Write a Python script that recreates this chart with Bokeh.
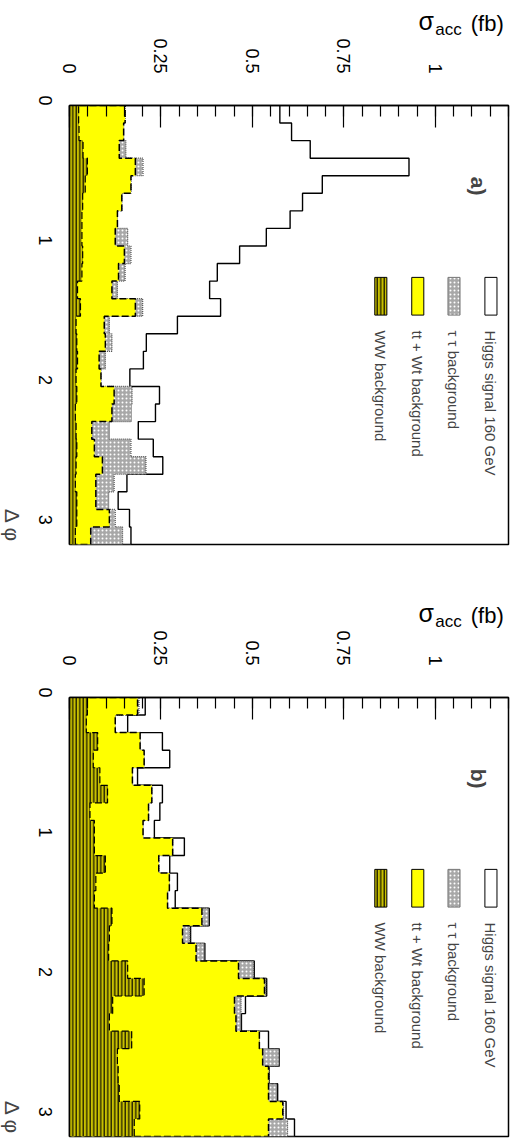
import math
import numpy as np
from bokeh.plotting import figure
from bokeh.layouts import column
from bokeh.models import Range1d, FixedTicker, Label, LinearAxis
from bokeh.embed import file_html
from bokeh.resources import INLINE

# 25 bins in delta-phi between 0 and pi
n_bins = 25
phi_edges = np.linspace(0.0, math.pi, n_bins + 1)

# accepted cross sections per bin (fb), panel a)
ww_a = [0.025, 0.026, 0.037, 0.049, 0.043, 0.036, 0.034, 0.034, 0.036, 0.034, 0.022, 0.030, 0.018,
        0.020, 0.022, 0.018, 0.020, 0.016, 0.018, 0.020, 0.018, 0.016, 0.020, 0.020, 0.016]
ttwt_a = [0.127, 0.122, 0.099, 0.131, 0.125, 0.107, 0.097, 0.091, 0.114, 0.100, 0.094, 0.150, 0.077,
          0.078, 0.059, 0.068, 0.102, 0.100, 0.043, 0.048, 0.072, 0.056, 0.052, 0.089, 0.042]
tautau_a = [0.000, 0.000, 0.018, 0.021, 0.000, 0.000, 0.000, 0.034, 0.018, 0.018, 0.015, 0.020, 0.014,
            0.018, 0.017, 0.000, 0.049, 0.053, 0.048, 0.100, 0.119, 0.050, 0.035, 0.016, 0.087]
higgs_a = [0.423, 0.459, 0.504, 0.727, 0.523, 0.494, 0.472, 0.379, 0.297, 0.252, 0.252, 0.213, 0.186,
           0.094, 0.104, 0.079, 0.075, 0.066, 0.079, 0.061, 0.046, 0.035, 0.026, 0.039, 0.023]

# accepted cross sections per bin (fb), panel b)
ww_b = [0.049, 0.046, 0.077, 0.065, 0.083, 0.104, 0.056, 0.068, 0.068, 0.098, 0.072, 0.068, 0.116,
        0.109, 0.107, 0.159, 0.204, 0.118, 0.109, 0.170, 0.131, 0.133, 0.136, 0.192, 0.177]
ttwt_b = [0.137, 0.079, 0.116, 0.139, 0.089, 0.121, 0.160, 0.133, 0.214, 0.146, 0.201, 0.200, 0.246,
          0.200, 0.239, 0.303, 0.329, 0.333, 0.346, 0.349, 0.397, 0.411, 0.408, 0.391, 0.367]
tautau_b = [0.004, 0.000, 0.000, 0.000, 0.000, 0.000, 0.000, 0.000, 0.000, 0.000, 0.000, 0.000, 0.018,
            0.020, 0.022, 0.041, 0.004, 0.018, 0.013, 0.000, 0.044, 0.002, 0.022, 0.002, 0.052]
higgs_b = [0.017, 0.034, 0.061, 0.070, 0.014, 0.029, 0.031, 0.031, 0.032, 0.030, 0.022, 0.021, 0.002,
           0.002, 0.002, 0.002, 0.002, 0.012, 0.002, 0.025, 0.001, 0.000, 0.003, 0.007, 0.019]

sigma_ticks = [0, 0.25, 0.5, 0.75, 1]
sigma_tick_labels = ["0", "0.25", "0.5", "0.75", "1"]
phi_ticks = [0, 1, 2, 3]

legend_texts = ["Higgs signal 160 GeV", "\u03c4 \u03c4  background", "tt + Wt background", "WW background"]

FONT = "Liberation Sans"
YELLOW = "#ffff00"
WW_FILL = dict(fill_color="#c8c000", hatch_pattern="vertical_line", hatch_color="black",
               hatch_scale=3.5, hatch_weight=1.1)
TAU_FILL = dict(fill_color="#a8a8a8", hatch_pattern="dot", hatch_color="white",
                hatch_scale=4, hatch_weight=2)


def step_path(levels):
    """Closed outline of a histogram drawn sideways: x = cross section, y = delta phi."""
    levels = np.asarray(levels, dtype=float)
    xs = np.concatenate([[0.0], np.repeat(levels, 2), [0.0]])
    ys = np.concatenate([[phi_edges[0]], np.repeat(phi_edges, 2)[1:-1], [phi_edges[-1]]])
    return xs, ys


def text_axis(p, tick, text, size, standoff):
    """An axis above the plot carrying a single text item, used for the title pieces."""
    ax = LinearAxis(ticker=FixedTicker(ticks=[tick], minor_ticks=[]),
                    major_label_overrides={tick: text})
    ax.axis_line_color = None
    ax.major_tick_line_color = None
    ax.minor_tick_line_color = None
    ax.major_tick_in = 0
    ax.major_tick_out = 0
    ax.minor_tick_in = 0
    ax.minor_tick_out = 0
    ax.major_label_standoff = standoff
    ax.major_label_text_font = FONT
    ax.major_label_text_font_size = size
    ax.major_label_text_color = "black"
    ax.major_label_orientation = "horizontal"
    p.add_layout(ax, "above")
    return ax


def panel(tag, ww, ttwt, tautau, higgs, border_top, border_bottom):
    p = figure(width=511, height=573, output_backend="svg", toolbar_location=None,
               x_range=Range1d(0, 1.2), y_range=Range1d(math.pi, 0),
               x_axis_location="above",
               min_border_left=69, min_border_right=3,
               min_border_top=border_top, min_border_bottom=border_bottom)
    p.grid.visible = False
    p.background_fill_color = "white"
    p.border_fill_color = "white"
    p.outline_line_color = "black"
    p.outline_line_width = 1.5

    # stacked cumulative levels: WW, +tt/Wt, +tautau, +Higgs
    lvl_ww = np.asarray(ww)
    lvl_tt = lvl_ww + np.asarray(ttwt)
    lvl_tau = lvl_tt + np.asarray(tautau)
    lvl_h = lvl_tau + np.asarray(higgs)

    # Higgs signal on top of everything
    xs, ys = step_path(lvl_h)
    p.patch(xs, ys, fill_color="white", line_color=None)
    p.line(xs, ys, line_color="black", line_width=1.4)

    # tau tau background
    xs, ys = step_path(lvl_tau)
    p.patch(xs, ys, line_color=None, **TAU_FILL)
    p.line(xs, ys, line_color="#555555", line_width=1.2, line_dash="1 1")

    # tt + Wt background
    xs, ys = step_path(lvl_tt)
    p.patch(xs, ys, fill_color=YELLOW, line_color=None)
    p.line(xs, ys, line_color="black", line_width=1.5, line_dash="7 3")

    # WW background
    xs, ys = step_path(lvl_ww)
    p.patch(xs, ys, line_color=None, **WW_FILL)
    p.line(xs, ys, line_color="black", line_width=1.2, line_dash="7 3")

    # cross-section axis (drawn across the top)
    xa = p.xaxis[0]
    xa.ticker = FixedTicker(ticks=sigma_ticks, minor_ticks=list(np.round(np.arange(0, 1.2001, 0.05), 2)))
    xa.major_label_overrides = {t: s for t, s in zip(sigma_ticks, sigma_tick_labels)}
    xa.major_tick_in = 22
    xa.major_tick_out = 0
    xa.minor_tick_in = 11
    xa.minor_tick_out = 0
    xa.major_tick_line_width = 1.2
    xa.minor_tick_line_width = 1.2
    xa.axis_line_color = "black"
    xa.axis_line_width = 1.5
    xa.major_label_orientation = -math.pi / 2
    xa.major_label_standoff = 32
    xa.major_label_text_font = FONT
    xa.major_label_text_font_size = "18px"
    xa.major_label_text_color = "black"

    # delta phi axis (drawn down the left)
    ya = p.yaxis[0]
    ya.ticker = FixedTicker(ticks=phi_ticks, minor_ticks=[])
    ya.major_tick_in = 0
    ya.major_tick_out = 0
    ya.axis_line_color = "black"
    ya.axis_line_width = 1.5
    ya.major_label_orientation = -math.pi / 2
    ya.major_label_standoff = 24
    ya.major_label_text_font = FONT
    ya.major_label_text_font_size = "18px"
    ya.major_label_text_color = "black"

    # axis titles: sigma_acc (fb) above, delta phi at the lower left
    text_axis(p, 1.036, "acc", "17px", -3)
    text_axis(p, 0.975, "\u03c3", "25px", -18)
    text_axis(p, 1.142, "(fb)", "22px", -32)
    p.add_layout(Label(x=-0.156, y=3.006, text="\u0394 \u03c6", text_font=FONT, text_font_size="21px",
                       angle=-math.pi / 2, text_align="center", text_baseline="middle"), "left")

    # panel tag
    p.add_layout(Label(x=1.119, y=0.51, text=tag, text_font=FONT, text_font_size="21px",
                       text_font_style="bold", angle=-math.pi / 2,
                       text_align="left", text_baseline="middle"))

    # legend keys, written sideways
    key_x = [1.152, 1.051, 0.952, 0.851]
    key_w = 0.0165
    key_styles = [
        dict(fill_color="white", line_color="black"),
        dict(line_color="#777777", **TAU_FILL),
        dict(fill_color=YELLOW, line_color="black"),
        dict(line_color="black", **WW_FILL),
    ]
    for kx, style, txt in zip(key_x, key_styles, legend_texts):
        p.quad(left=[kx - key_w], right=[kx + key_w], top=[1.23], bottom=[1.50], line_width=1, **style)
        p.add_layout(Label(x=kx, y=1.61, text=txt, text_font=FONT, text_font_size="15px",
                           angle=-math.pi / 2, text_align="left", text_baseline="middle"))
    return p


pa = panel("a)", ww_a, ttwt_a, tautau_a, higgs_a, 105, 29)
pb = panel("b)", ww_b, ttwt_b, tautau_b, higgs_b, 124, 10)

layout = column(pa, pb, spacing=0)
open("out.html", "w").write(file_html(layout, INLINE))
